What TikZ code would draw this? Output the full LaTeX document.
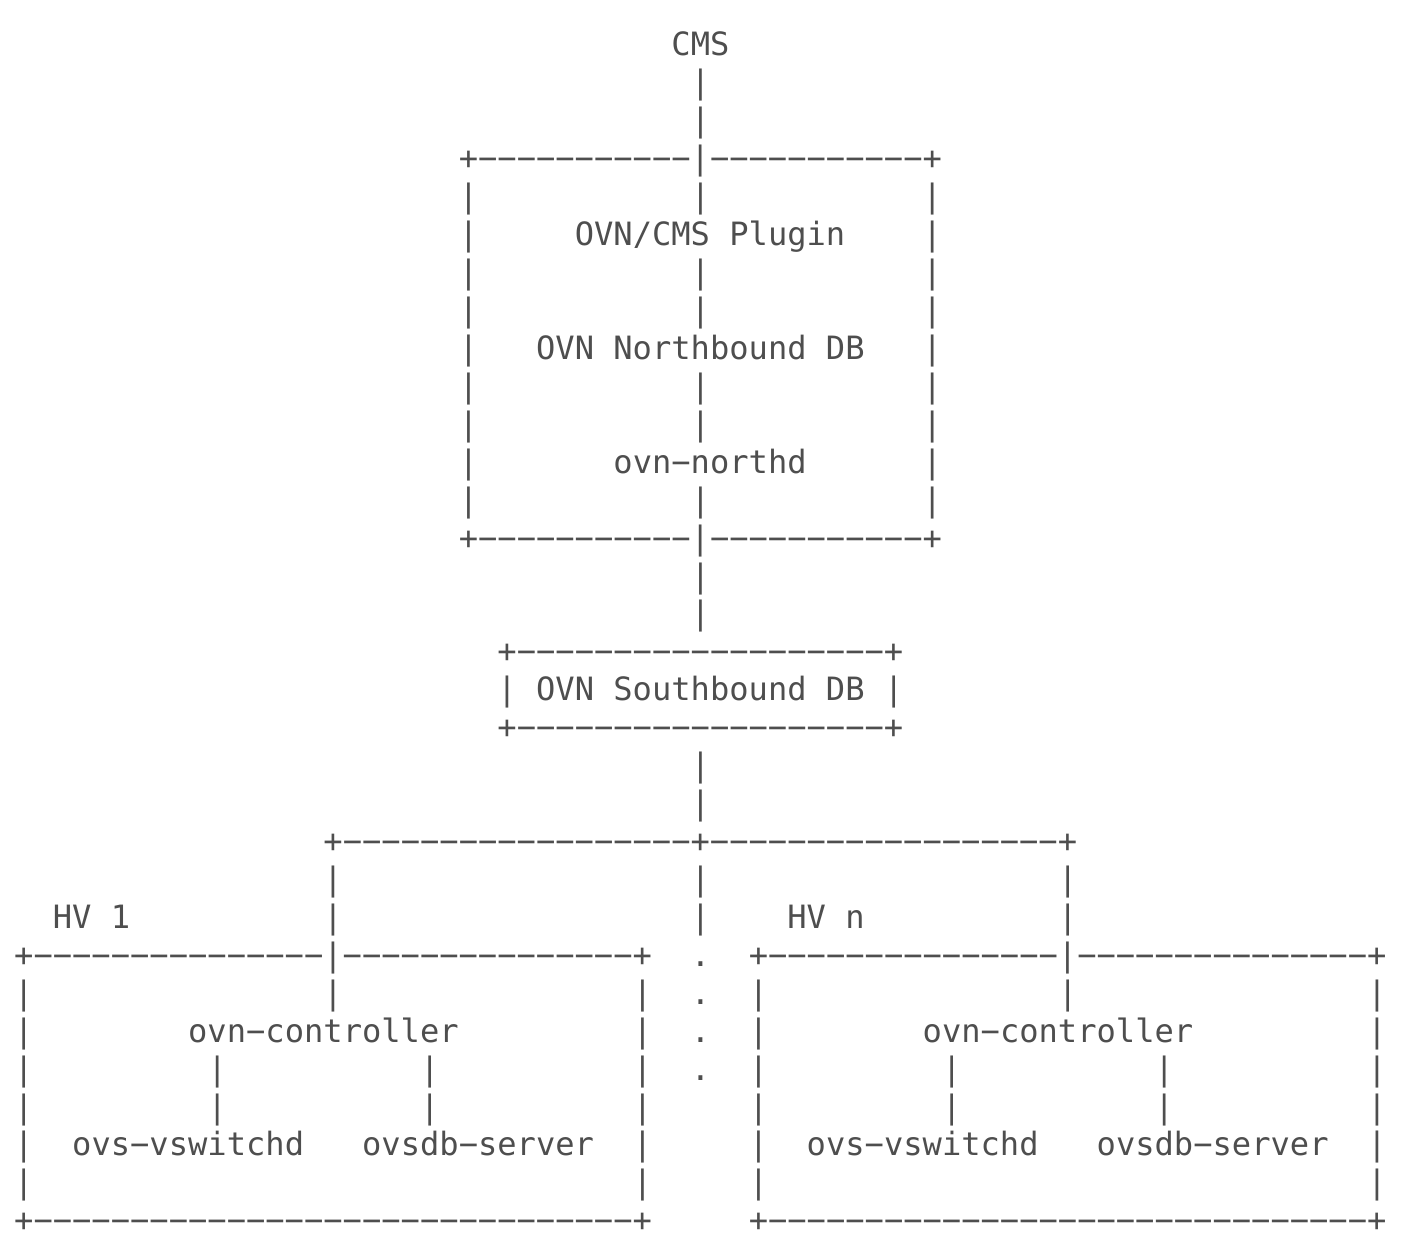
\documentclass[tikz,border=0pt]{standalone}
\usepackage{fontspec}
\setmonofont{DejaVu Sans Mono}
\ExplSyntaxOn
\cs_new:Npn \myrep #1#2 { \prg_replicate:nn {#1} {#2} }
\ExplSyntaxOff
\newcommand\dl[1]{\myrep{#1}{−}}
\definecolor{ink}{RGB}{78,78,78}
\def\xo{14}\def\cw{19.33}\def\yo{56}\def\rh{37.93}
\tikzset{txt/.style={font=\ttfamily\fontsize{32.1}{38}\selectfont, text=ink, inner sep=0pt, anchor=base west}}
\newcommand\seg[4]{\node[txt] (#1) at ({\xo+#2*\cw},{-(\yo+#3*\rh)}) {#4};}
\newcommand\bars[2]{\foreach \c in {#2} {\node[txt] (v#1-\c) at ({\xo+\c*\cw},{-(\yo+#1*\rh)}) {|};}}
\newcommand\dotmark[2]{\node[txt] (d#1) at ({\xo+#2*\cw},{-(\yo+#1*\rh)}) {.};}
\begin{document}
\begin{tikzpicture}[x=1pt,y=1pt]
\useasboundingbox (0,0) rectangle (1410,-1244);
\fill[white] (0,0) rectangle (1410,-1244);
% top
\seg{cms}{34}{0}{CMS}
\bars{1}{35}
\bars{2}{35}
\seg{nbtop}{23}{3}{+\dl{11}|\dl{11}+}
\bars{4}{23,35,47}
\bars{5}{23,47}
\seg{plugin}{29}{5}{OVN/CMS Plugin}
\bars{6}{23,35,47}
\bars{7}{23,35,47}
\bars{8}{23,47}
\seg{nbdb}{27}{8}{OVN Northbound DB}
\bars{9}{23,35,47}
\bars{10}{23,35,47}
\bars{11}{23,47}
\seg{northd}{31}{11}{ovn−northd}
\bars{12}{23,35,47}
\seg{nbbot}{23}{13}{+\dl{11}|\dl{11}+}
\bars{14}{35}
\bars{15}{35}
% southbound
\seg{sbtop}{25}{16}{+\dl{19}+}
\bars{17}{25,45}
\seg{sbdb}{27}{17}{OVN Southbound DB}
\seg{sbbot}{25}{18}{+\dl{19}+}
\bars{19}{35}
\bars{20}{35}
\seg{split}{16}{21}{+\dl{18}+\dl{18}+}
\bars{22}{16,35,54}
\bars{23}{16,35,54}
\seg{hv1}{2}{23}{HV 1}
\seg{hvn}{40}{23}{HV n}
% hypervisors
\seg{hvatop}{0}{24}{+\dl{15}|\dl{15}+}
\seg{hvbtop}{38}{24}{+\dl{15}|\dl{15}+}
\dotmark{24}{35}
\bars{25}{0,16,32,38,54,70}
\dotmark{25}{35}
\bars{26}{0,32,38,70}
\seg{ctla}{9}{26}{ovn−controller}
\seg{ctlb}{47}{26}{ovn−controller}
\dotmark{26}{35}
\bars{27}{0,10,21,32,38,48,59,70}
\dotmark{27}{35}
\bars{28}{0,10,21,32,38,48,59,70}
\bars{29}{0,32,38,70}
\seg{vswa}{3}{29}{ovs−vswitchd}
\seg{dbsa}{18}{29}{ovsdb−server}
\seg{vswb}{41}{29}{ovs−vswitchd}
\seg{dbsb}{56}{29}{ovsdb−server}
\bars{30}{0,32,38,70}
\seg{hvabot}{0}{31}{+\dl{31}+}
\seg{hvbbot}{38}{31}{+\dl{31}+}
\end{tikzpicture}
\end{document}
